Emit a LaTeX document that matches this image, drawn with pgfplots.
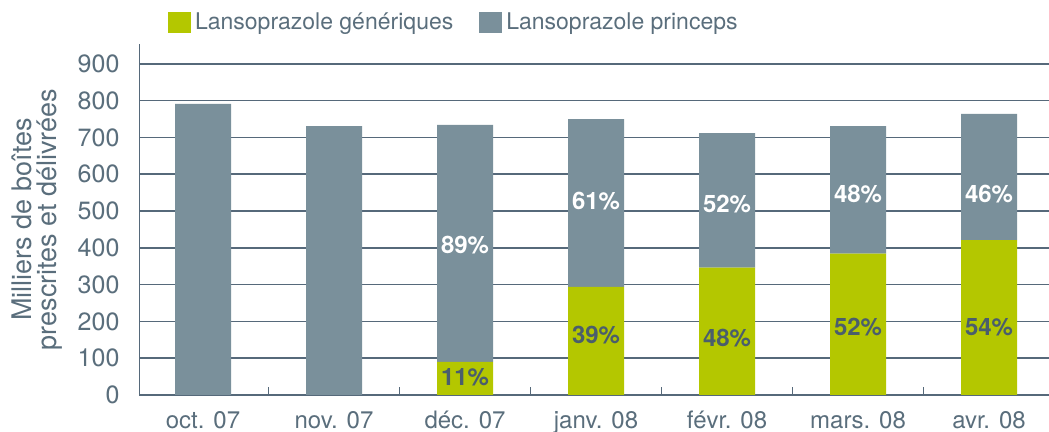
\documentclass[border=0pt]{standalone}
\usepackage{fontspec}
\setmainfont{TeX Gyre Heros}
\usepackage{pgfplots}
\pgfplotsset{compat=1.18}
\definecolor{gen}{HTML}{B4C700}
\definecolor{pri}{HTML}{7A909B}
\definecolor{txt}{HTML}{5A6E7C}
\definecolor{dtxt}{HTML}{4A5E6C}
\definecolor{gridc}{HTML}{56697A}
\begin{document}
\begin{tikzpicture}
\begin{axis}[
  scale only axis, width=454.75pt, height=175.5pt,
  ybar stacked, bar width=28pt,
  xmin=-0.485, xmax=6.458, ymin=0, ymax=954,
  axis x line*=bottom, axis y line*=left,
  axis line style={gridc, line width=0.8pt, -},
  ymajorgrids, grid style={gridc, line width=0.8pt},
  ytick={0,100,...,900},
  xtick={0,...,6},
  xticklabels={oct. 07, nov. 07, déc. 07, janv. 08, févr. 08, mars. 08, avr. 08},
  minor xtick={0.5,1.5,...,5.5},
  major tick length=0pt, minor tick length=4pt,
  xtick align=inside,
  minor tick style={gridc, line width=0.8pt},
  /pgf/number format/assume math mode=true,
  tick label style={font=\fontsize{12.5}{15}\selectfont, text=txt},
  xticklabel style={yshift=-4.5pt, font=\fontsize{12}{15}\selectfont},
  yticklabel style={xshift=-6.5pt},
  ylabel={Milliers de boîtes\\prescrites et délivrées},
  ylabel style={at={(axis description cs:-0.113,0.5)}, anchor=center, align=center, font=\fontsize{13.5}{12.5}\selectfont, text=txt},
  legend style={at={(axis description cs:0.031,1.061)}, anchor=west, draw=none, fill=none,
     legend columns=2, font=\fontsize{11.5}{13}\selectfont, text=txt, inner sep=0pt,
     /tikz/every even column/.append style={column sep=11pt}},
  legend image code/.code={\fill[#1] (0pt,-5.25pt) rectangle (11.5pt,5.25pt);},
]
\addplot[fill=gen, draw=none] coordinates {(0,0) (1,0) (2,90) (3,294) (4,346) (5,384) (6,421)};
\addplot[fill=pri, draw=none] coordinates {(0,791) (1,731) (2,644) (3,456) (4,366) (5,347) (6,343)};
\legend{Lansoprazole génériques, Lansoprazole princeps}
\end{axis}
\begin{axis}[
  scale only axis, width=454.75pt, height=175.5pt,
  xmin=-0.485, xmax=6.458, ymin=0, ymax=954,
  hide axis,
  nodes near coords, point meta=explicit symbolic,
  nodes near coords align={center},
]
\addplot[draw=none, mark=none, nodes near coords style={font=\fontsize{12}{14}\selectfont\bfseries, text=dtxt, anchor=center}]
  coordinates {(2,49)[11\%] (3,163)[39\%] (4,155)[48\%] (5,185)[52\%] (6,185)[54\%]};
\addplot[draw=none, mark=none, nodes near coords style={font=\fontsize{12}{14}\selectfont\bfseries, text=white, anchor=center}]
  coordinates {(2,408)[89\%] (3,528)[61\%] (4,519)[52\%] (5,546)[48\%] (6,546)[46\%]};
\end{axis}
\pgfresetboundingbox
\path[use as bounding box] (-69.75pt,-18.5pt) rectangle (454.75pt,197.5pt);
\end{tikzpicture}
\end{document}
